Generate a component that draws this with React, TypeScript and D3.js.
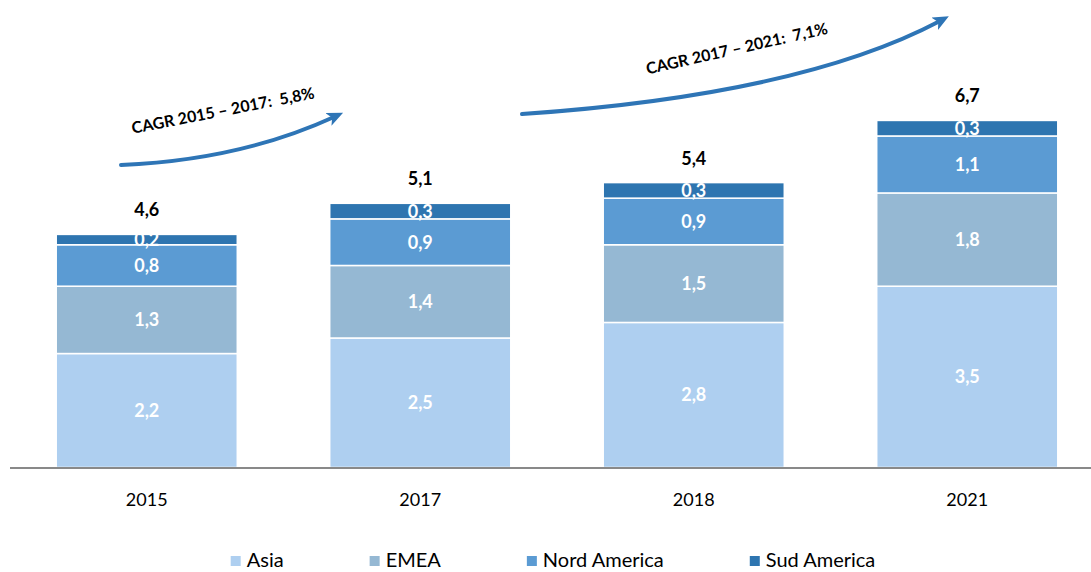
import { useRef, useEffect } from 'react';
import * as d3 from 'd3';

const years = ['2015', '2017', '2018', '2021'];
const asia = [2.2, 2.5, 2.8, 3.5];
const emea = [1.3, 1.4, 1.5, 1.8];
const nordAmerica = [0.8, 0.9, 0.9, 1.1];
const sudAmerica = [0.2, 0.3, 0.3, 0.3];
const totals = [4.6, 5.1, 5.4, 6.7];

const seriesNames = ['Asia', 'EMEA', 'Nord America', 'Sud America'];
const seriesColors = ['#AECFF0', '#95B8D3', '#5B9BD3', '#2E75B0'];

const cagrLabels = ['CAGR 2015 \u2013 2017:  5,8%', 'CAGR 2017 \u2013 2021:  7,1%'];

const W = 1091;
const H = 572;
const FONT = 'Lato, "Open Sans", sans-serif';

const App = () => {
  const ref = useRef<SVGSVGElement>(null);

  useEffect(() => {
    const svg = d3.select(ref.current);
    svg.selectAll('*').remove();

    const rows = years.map((y, i) => ({
      year: y,
      Asia: asia[i],
      EMEA: emea[i],
      'Nord America': nordAmerica[i],
      'Sud America': sudAmerica[i],
    }));

    const x = d3.scaleBand().domain(years).range([10, 1104]).paddingInner(0.338).paddingOuter(0.169);
    const y = d3.scaleLinear().domain([0, 7]).range([467.5, 467.5 - 7 * 51.8]);
    const color = d3.scaleOrdinal<string>().domain(seriesNames).range(seriesColors);

    const stacked = d3.stack<any>().keys(seriesNames)(rows);

    const layers = svg.append('g')
      .selectAll('g')
      .data(stacked)
      .enter().append('g')
      .attr('fill', d => color(d.key));

    layers.selectAll('rect')
      .data(d => d)
      .enter().append('rect')
      .attr('x', d => x(d.data.year)!)
      .attr('width', x.bandwidth())
      .attr('y', d => y(d[1]))
      .attr('height', d => y(d[0]) - y(d[1]))
      .attr('stroke', '#fff')
      .attr('stroke-width', 1.5);

    // segment labels
    layers.selectAll('text')
      .data(d => d)
      .enter().append('text')
      .attr('x', d => x(d.data.year)! + x.bandwidth() / 2)
      .attr('y', d => (y(d[0]) + y(d[1])) / 2)
      .attr('dy', '0.36em')
      .attr('text-anchor', 'middle')
      .attr('font-family', FONT)
      .attr('font-weight', 'bold')
      .attr('font-size', 18)
      .attr('fill', '#fff')
      .text(d => d3.format('.1f')(d[1] - d[0]).replace('.', ','));

    // totals
    const topOf = (i: number) => y(stacked[stacked.length - 1][i][1]);
    svg.append('g')
      .selectAll('text')
      .data(totals)
      .enter().append('text')
      .attr('x', (d, i) => x(years[i])! + x.bandwidth() / 2)
      .attr('y', (d, i) => topOf(i) - 18)
      .attr('text-anchor', 'middle')
      .attr('font-family', FONT)
      .attr('font-weight', 'bold')
      .attr('font-size', 18)
      .attr('fill', '#000')
      .text(d => d3.format('.1f')(d).replace('.', ','));

    // axis
    svg.append('line')
      .attr('x1', 10).attr('x2', W)
      .attr('y1', 468).attr('y2', 468)
      .attr('stroke', '#898989')
      .attr('stroke-width', 2);

    svg.append('g')
      .selectAll('text')
      .data(years)
      .enter().append('text')
      .attr('x', d => x(d)! + x.bandwidth() / 2)
      .attr('y', 506)
      .attr('text-anchor', 'middle')
      .attr('font-family', FONT)
      .attr('font-size', 18)
      .attr('fill', '#000')
      .text(d => d);

    // CAGR arrows
    const blue = '#2E75B6';
    svg.append('defs').append('marker')
      .attr('id', 'head')
      .attr('markerUnits', 'userSpaceOnUse')
      .attr('markerWidth', 20).attr('markerHeight', 20)
      .attr('refX', 6).attr('refY', 7)
      .attr('orient', 'auto')
      .append('path')
      .attr('d', 'M0,0 L16,7 L0,14 L4,7 Z')
      .attr('fill', blue);

    const arrows = [
      'M121,165 Q240,160 334,117',
      'M522,114 Q800,95 940,21',
    ];
    svg.append('g')
      .selectAll('path')
      .data(arrows)
      .enter().append('path')
      .attr('d', d => d)
      .attr('fill', 'none')
      .attr('stroke', blue)
      .attr('stroke-width', 4)
      .attr('stroke-linecap', 'round')
      .attr('marker-end', 'url(#head)');

    const cagrPos = [
      { cx: 224, cy: 116, angle: -11 },
      { cx: 738, cy: 54, angle: -12.7 },
    ];
    svg.append('g')
      .selectAll('text')
      .data(cagrLabels)
      .enter().append('text')
      .attr('transform', (d, i) => `translate(${cagrPos[i].cx},${cagrPos[i].cy}) rotate(${cagrPos[i].angle})`)
      .attr('text-anchor', 'middle')
      .attr('font-family', FONT)
      .attr('font-weight', 'bold')
      .attr('font-size', 16)
      .attr('fill', '#000')
      .attr('xml:space', 'preserve')
      .style('white-space', 'pre')
      .text(d => d);

    // legend
    const legend = svg.append('g');
    const items = legend.selectAll('g')
      .data(seriesNames)
      .enter().append('g');
    items.append('rect')
      .attr('width', 10).attr('height', 10)
      .attr('y', 556)
      .attr('fill', d => color(d));
    const labels = items.append('text')
      .attr('x', 16)
      .attr('y', 567)
      .attr('font-family', FONT)
      .attr('font-size', 20)
      .attr('fill', '#000')
      .text(d => d);

    const widths: number[] = [];
    labels.each(function () {
      widths.push(16 + (this as SVGTextElement).getComputedTextLength());
    });
    const gap = 86;
    const total = d3.sum(widths) + gap * (widths.length - 1);
    let cursor = 553 - total / 2;
    items.attr('transform', (d, i) => {
      const t = `translate(${cursor},0)`;
      cursor += widths[i] + gap;
      return t;
    });
  }, []);

  return (
    <svg
      ref={ref}
      width={W}
      height={H}
      style={{ position: 'absolute', left: 0, top: 0, background: '#fff' }}
    />
  );
};

export default App;
